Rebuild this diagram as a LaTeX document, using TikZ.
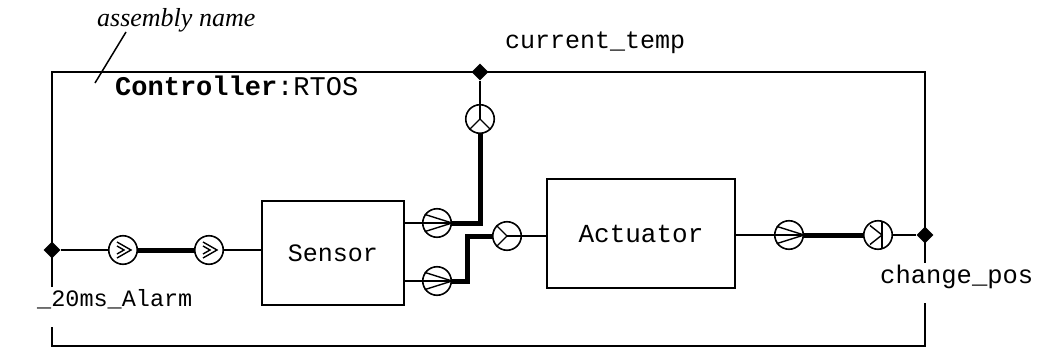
\documentclass[tikz,border=0pt]{standalone}
\usepackage{fontspec}
\setmainfont{Liberation Serif}
\setmonofont{Liberation Mono}
\usetikzlibrary{shapes.geometric,calc}
\begin{document}
\begin{tikzpicture}[x=1pt,y=-1pt,
  wire/.style={line width=1.5pt},
  fat/.style={line width=5pt},
  frameline/.style={line width=2pt},
  port/.style={circle,draw,line width=1.6pt,minimum size=28.5pt,inner sep=0pt},
  junction/.style={diamond,fill=black,minimum size=17pt,inner sep=0pt},
  box/.style={draw,line width=1.8pt,inner sep=0pt},
  glyph/.style={line width=1.4pt},
  lbl/.style={anchor=base west,inner sep=0pt}
]
\useasboundingbox (0,0) rectangle (1037,348);

% frame of the assembly
\coordinate (fL1) at (52,287);
\coordinate (fTL) at (52,72);
\coordinate (fTR) at (925,72);
\coordinate (fR1) at (925,263);
\coordinate (fR2) at (925,303);
\coordinate (fBR) at (925,346);
\coordinate (fBL) at (52,346);
\coordinate (fL2) at (52,327);
\draw[frameline] (fL1) -- (fTL) -- (fTR) -- (fR1);
\draw[frameline] (fR2) -- (fBR) -- (fBL) -- (fL2);

% junctions
\node[junction] (dL) at (52,250) {};
\node[junction] (dT) at (480,72) {};
\node[junction] (dR) at (925,235) {};

% components
\node[box,minimum width=142pt,minimum height=104pt,font=\ttfamily\fontsize{25}{30}\selectfont] (sensor) at (333,253) {Sensor};
\node[box,minimum width=188pt,minimum height=109pt,font=\ttfamily\fontsize{26}{30}\selectfont] (act) at (641,233.5) {Actuator};

% ports
\node[port] (pL1) at (123,250) {};
\node[port] (pL2) at (209,250) {};
\node[port] (pS1) at (437,223) {};
\node[port] (pS2) at (437,281) {};
\node[port] (pT) at (480,119) {};
\node[port] (pA) at (507,236) {};
\node[port] (pO1) at (789,235) {};
\node[port] (pO2) at (878,235) {};

% port glyphs
\foreach \p in {pL1,pL2}{
  \draw[glyph] ($(\p)+(-6,-8)$) -- ($(\p)+(8,0)$) -- ($(\p)+(-6,8)$);
  \draw[glyph] ($(\p)+(-6,-4)$) -- ($(\p)+(1,0)$) -- ($(\p)+(-6,4)$);
}
\foreach \p in {pS1,pS2,pO1}{
  \draw[glyph] (\p.145) -- (\p.east) -- (\p.215);
  \draw[glyph] (\p.west) -- (\p.east);
}
\draw[glyph] (pT.north) -- (pT.center);
\draw[glyph] (pT.225) -- (pT.center) -- (pT.315);
\draw[glyph] (pA.135) -- (pA.center) -- (pA.225);
\draw[glyph] (pA.center) -- (pA.east);
\draw[glyph] ($(pO2)+(4,-13.6)$) -- ($(pO2)+(4,13.6)$);
\draw[glyph] ($(pO2)+(-8,-9.5)$) -- ($(pO2)+(4,0)$) -- ($(pO2)+(-8,9.5)$);

% connectors
\coordinate (bend) at (467,236);
\draw[wire] (dL) -- (pL1);
\draw[fat] (pL1) -- (pL2);
\draw[wire] (pL2) -- (pL2 -| sensor.west);
\draw[wire] (pS1 -| sensor.east) -- (pS1);
\draw[fat] (pS1) -| (pT);
\draw[wire] (pT) -- (dT);
\draw[wire] (pS2 -| sensor.east) -- (pS2);
\draw[fat] (pS2) -| (bend) -- (pA);
\draw[wire] (pA) -- (pA -| act.west);
\draw[wire] (pO1 -| act.east) -- (pO1);
\draw[fat] (pO1) -- (pO2);
\draw[wire] (pO2) -- (dR);

% labels
\node[lbl,font=\ttfamily\fontsize{25}{30}\selectfont] (ct) at (505,48) {current\_temp};
\node[lbl,font=\ttfamily\fontsize{25.5}{30}\selectfont] (cp) at (880,283) {change\_pos};
\node[lbl,font=\ttfamily\fontsize{23.5}{28}\selectfont] (al) at (37,306) {\_20ms\_Alarm};
\node[lbl,font=\ttfamily\fontsize{27}{32}\selectfont] (ctl) at (115,95) {\textbf{Controller}:RTOS};
\node[lbl,font=\itshape\fontsize{26}{30}\selectfont] (an) at (97,27) {assembly name};
\coordinate (lnA) at (126,32);
\coordinate (lnB) at (95,83);
\draw[wire] (lnA) -- (lnB);
\end{tikzpicture}
\end{document}
